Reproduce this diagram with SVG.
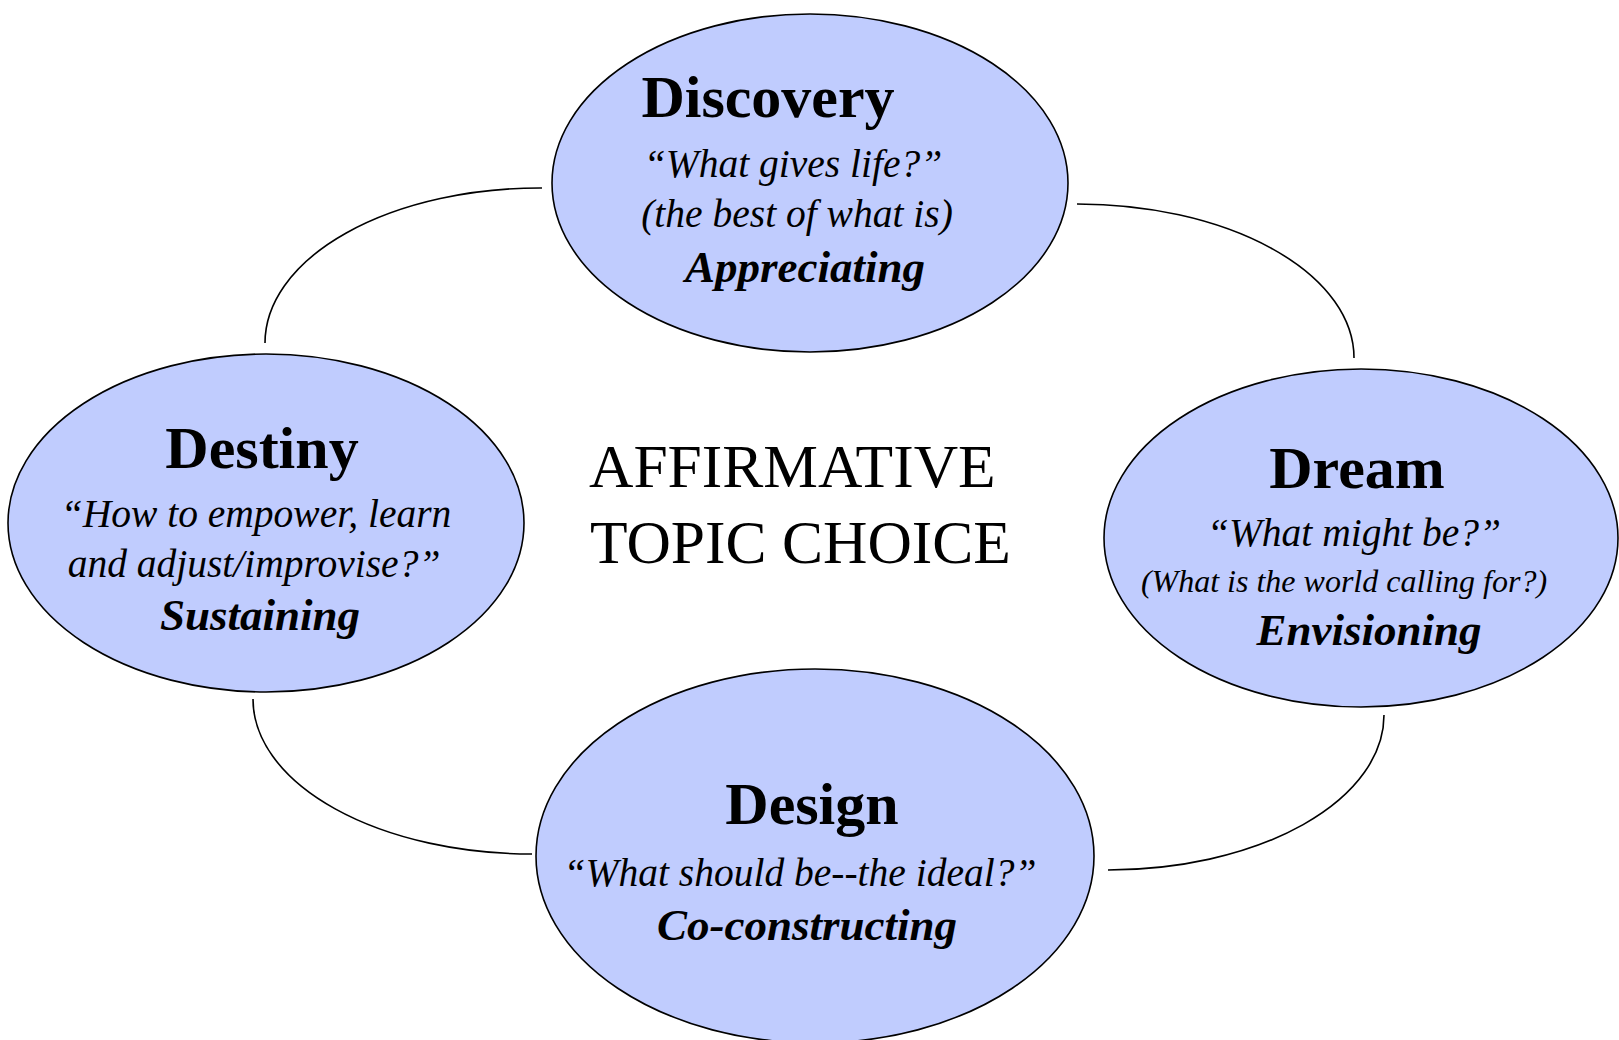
<svg xmlns="http://www.w3.org/2000/svg" width="1619" height="1040" viewBox="0 0 1619 1040">
<style>
.node ellipse{fill:#C0CCFE;stroke:#000;stroke-width:1.6}
.conn path{fill:none;stroke:#000;stroke-width:1.6}
text{font-family:"Liberation Serif","Times New Roman",serif;fill:#000;text-anchor:middle}
.t{font-weight:bold;font-size:60px}
.q{font-style:italic;font-size:39.5px}
.s{font-style:italic;font-size:32px}
.g{font-weight:bold;font-style:italic;font-size:45px}
.c{font-size:61.5px;text-anchor:start}
</style>
<rect width="1619" height="1040" fill="#fff"/>
<g id="connectors" class="conn">
<path d="M542,188 A275,155 0 0 0 265,343"/>
<path d="M1077,204 A277,154 0 0 1 1354,358"/>
<path d="M253,699 A279,155 0 0 0 532,854"/>
<path d="M1384,715 A276,155 0 0 1 1108,870"/>
</g>
<g id="discovery" class="node">
<ellipse cx="810" cy="183" rx="258" ry="169"/>
<text class="t" x="768" y="117">Discovery</text>
<text class="q" x="793" y="177">“What gives life?”</text>
<text class="q" x="797" y="227">(the best of what is)</text>
<text class="g" x="805" y="282">Appreciating</text>
</g>
<g id="destiny" class="node">
<ellipse cx="266" cy="523" rx="258" ry="169"/>
<text class="t" x="262" y="468">Destiny</text>
<text class="q" x="256" y="527">“How to empower, learn</text>
<text class="q" x="254" y="577">and adjust/improvise?”</text>
<text class="g" x="260" y="630">Sustaining</text>
</g>
<g id="dream" class="node">
<ellipse cx="1361" cy="538" rx="257" ry="169"/>
<text class="t" x="1357" y="488">Dream</text>
<text class="q" x="1354" y="546">“What might be?”</text>
<text class="s" x="1344" y="592">(What is the world calling for?)</text>
<text class="g" x="1369" y="645">Envisioning</text>
</g>
<g id="design" class="node">
<ellipse cx="815" cy="856" rx="279" ry="187"/>
<text class="t" x="812" y="824">Design</text>
<text class="q" x="800" y="886">“What should be--the ideal?”</text>
<text class="g" x="807" y="940">Co-constructing</text>
</g>
<g id="center">
<text class="c" x="589" y="487">AFFIRMATIVE</text>
<text class="c" x="590" y="563">TOPIC CHOICE</text>
</g>
</svg>
